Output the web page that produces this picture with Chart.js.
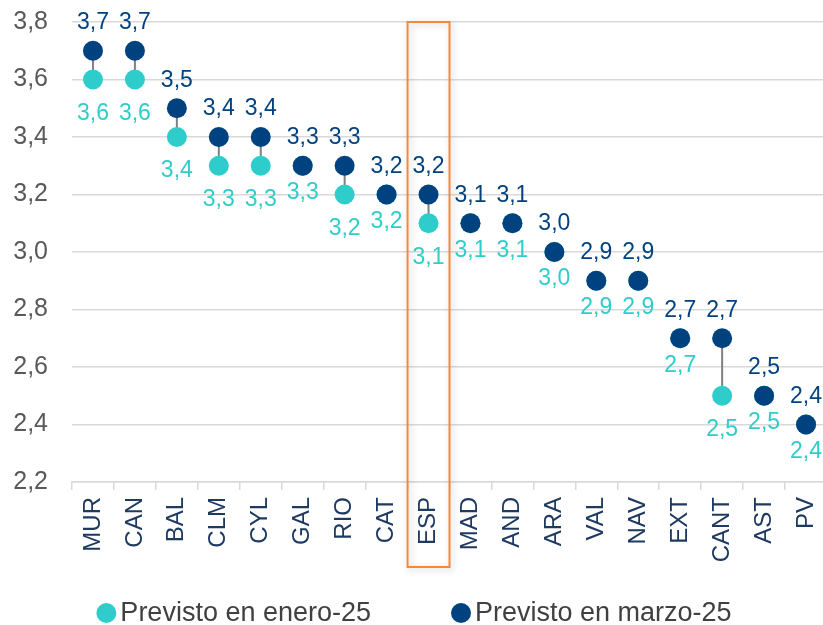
<!DOCTYPE html>
<html>
<head>
<meta charset="utf-8">
<script src="https://cdn.jsdelivr.net/npm/chart.js@4.4.1/dist/chart.umd.min.js"></script>
<style>
  html, body { margin: 0; padding: 0; background: #fff; overflow: hidden; }
  #wrap { width: 837px; height: 625px; }
</style>
</head>
<body>
<div id="wrap"><canvas id="chart" width="837" height="625"></canvas></div>
<script>
// data
const regions = ['MUR', 'CAN', 'BAL', 'CLM', 'CYL', 'GAL', 'RIO', 'CAT', 'ESP',
                 'MAD', 'AND', 'ARA', 'VAL', 'NAV', 'EXT', 'CANT', 'AST', 'PV'];
const enero = [3.6, 3.6, 3.4, 3.3, 3.3, 3.3, 3.2, 3.2, 3.1, 3.1, 3.1, 3.0, 2.9, 2.9, 2.7, 2.5, 2.5, 2.4];
const marzo = [3.7, 3.7, 3.5, 3.4, 3.4, 3.3, 3.3, 3.2, 3.2, 3.1, 3.1, 3.0, 2.9, 2.9, 2.7, 2.7, 2.5, 2.4];
const yMin = 2.2, yMax = 3.8, yStep = 0.2;
const seriesNames = ['Previsto en enero-25', 'Previsto en marzo-25'];
const highlight = 'ESP';

const TEAL = '#2ECDCB';
const NAVY = '#00427F';
const FONT = '"Liberation Sans", Arial, sans-serif';
const LEGEND_CENTER = 414;   // visible page is 823 wide

const fmt = v => v.toFixed(1).replace('.', ',');

// grey connector between the two forecasts
const connectors = {
    id: 'connectors',
    beforeDatasetsDraw(chart) {
        const ctx = chart.ctx;
        const a = chart.getDatasetMeta(0).data;
        const b = chart.getDatasetMeta(1).data;
        ctx.save();
        ctx.strokeStyle = '#808080';
        ctx.lineWidth = 2;
        for (let i = 0; i < regions.length; i++) {
            if (enero[i] === marzo[i]) continue;
            ctx.beginPath();
            ctx.moveTo(a[i].x, a[i].y);
            ctx.lineTo(b[i].x, b[i].y);
            ctx.stroke();
        }
        ctx.restore();
    }
};

// value labels: marzo above, enero below
const valueLabels = {
    id: 'valueLabels',
    afterDatasetsDraw(chart) {
        const ctx = chart.ctx;
        const a = chart.getDatasetMeta(0).data;
        const b = chart.getDatasetMeta(1).data;
        ctx.save();
        ctx.font = '23px ' + FONT;
        ctx.textAlign = 'center';
        ctx.textBaseline = 'middle';
        for (let i = 0; i < regions.length; i++) {
            ctx.fillStyle = NAVY;
            ctx.fillText(fmt(marzo[i]), b[i].x, b[i].y - 28);
            ctx.fillStyle = TEAL;
            const off = enero[i] === marzo[i] ? 27 : 34;
            ctx.fillText(fmt(enero[i]), a[i].x, a[i].y + off);
        }
        ctx.restore();
    }
};

// orange frame around the national total + legend
const extras = {
    id: 'extras',
    afterDraw(chart) {
        const ctx = chart.ctx;
        const x = chart.scales.x;
        const area = chart.chartArea;
        const idx = regions.indexOf(highlight);
        const half = (x.getPixelForValue(1) - x.getPixelForValue(0)) / 2;
        const cx = x.getPixelForValue(idx);
        ctx.save();
        ctx.shadowColor = 'rgba(0,0,0,0.22)';
        ctx.shadowBlur = 7;
        ctx.shadowOffsetX = 2;
        ctx.shadowOffsetY = 2;
        ctx.strokeStyle = '#F28A3C';
        ctx.lineWidth = 2;
        ctx.strokeRect(cx - half, area.top, half * 2, area.bottom - area.top + 85);
        ctx.restore();

        // legend
        ctx.save();
        ctx.font = '27px ' + FONT;
        ctx.textBaseline = 'middle';
        const r = 10, gapText = 4, gapItems = 80;
        const w = seriesNames.map(t => 2 * r + gapText + ctx.measureText(t).width);
        const total = w[0] + gapItems + w[1];
        let lx = LEGEND_CENTER - total / 2;
        const ly = 613;
        const cols = [TEAL, NAVY];
        for (let k = 0; k < 2; k++) {
            ctx.fillStyle = cols[k];
            ctx.beginPath();
            ctx.arc(lx + r, ly, r, 0, Math.PI * 2);
            ctx.fill();
            ctx.fillStyle = '#404040';
            ctx.fillText(seriesNames[k], lx + 2 * r + gapText, ly + 1);
            lx += w[k] + gapItems;
        }
        ctx.restore();
    }
};

new Chart(document.getElementById('chart'), {
    type: 'line',
    data: {
        labels: regions,
        datasets: [
            { label: seriesNames[0], data: enero, showLine: false, order: 1,
              pointRadius: 10, pointHoverRadius: 10, pointBorderWidth: 0,
              pointBackgroundColor: TEAL, borderColor: TEAL },
            { label: seriesNames[1], data: marzo, showLine: false, order: 0,
              pointRadius: 10, pointHoverRadius: 10, pointBorderWidth: 0,
              pointBackgroundColor: NAVY, borderColor: NAVY }
        ]
    },
    options: {
        responsive: false,
        animation: false,
        events: [],
        layout: { padding: { top: 22, right: 0, bottom: 0, left: 0 } },
        plugins: { legend: { display: false }, tooltip: { enabled: false } },
        scales: {
            x: {
                offset: true,
                grid: { offset: true, drawOnChartArea: false, tickLength: 8, color: '#D9D9D9', lineWidth: 1.5 },
                border: { color: '#D9D9D9', width: 1.5 },
                ticks: { minRotation: 90, maxRotation: 90, padding: 7, color: '#1F3A60',
                         font: { family: FONT, size: 24 } },
                afterFit(scale) {
                    scale.height = 143;
                    scale.paddingLeft = 0;
                    scale.paddingRight = 0;
                }
            },
            y: {
                min: yMin, max: yMax,
                grid: { color: '#D9D9D9', lineWidth: 1.5, drawTicks: false },
                border: { display: false },
                ticks: { stepSize: yStep, padding: 24, color: '#595959',
                         font: { family: FONT, size: 25 },
                         callback: v => fmt(v) },
                afterFit(scale) {
                    scale.width = 72;
                    scale.paddingTop = 0;
                    scale.paddingBottom = 0;
                }
            }
        }
    },
    plugins: [connectors, valueLabels, extras]
});
</script>
</body>
</html>
